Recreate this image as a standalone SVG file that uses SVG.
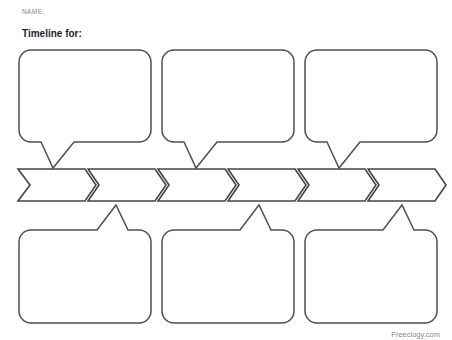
<svg xmlns="http://www.w3.org/2000/svg" width="452" height="340" viewBox="0 0 452 340">
<style>
.shape{fill:#fff;stroke:#505050;stroke-width:1.5;stroke-linejoin:miter}
.chev{fill:#fff;stroke:#454545;stroke-width:1.6;stroke-linejoin:miter}
.t{font-family:"Liberation Sans",Arial,sans-serif}
</style>
<rect width="452" height="340" fill="#fff"/>
<text class="t" x="22" y="14" font-size="6.5" fill="#888" letter-spacing="0.4">NAME:</text>
<text class="t" x="22" y="37" font-size="10" font-weight="bold" fill="#1e1e2e">Timeline for:</text>
<g id="top-bubble-1"><path class="shape" d="M31,50 H139 A12,12 0 0 1 151,62 V130 A12,12 0 0 1 139,142 H74 L53,168 L41,142 H31 A12,12 0 0 1 19,130 V62 A12,12 0 0 1 31,50 Z"/></g>
<g id="top-bubble-2"><path class="shape" d="M174,50 H282 A12,12 0 0 1 294,62 V130 A12,12 0 0 1 282,142 H217 L196,168 L184,142 H174 A12,12 0 0 1 162,130 V62 A12,12 0 0 1 174,50 Z"/></g>
<g id="top-bubble-3"><path class="shape" d="M317,50 H425 A12,12 0 0 1 437,62 V130 A12,12 0 0 1 425,142 H360 L339,168 L327,142 H317 A12,12 0 0 1 305,130 V62 A12,12 0 0 1 317,50 Z"/></g>
<g id="timeline">
<g id="step-1"><path class="chev" d="M18,169 H85 L96,185 L85,201 H18 L30,185 Z"/></g>
<g id="step-2"><path class="chev" d="M88,169 H155 L166,185 L155,201 H88 L99,185 Z"/></g>
<g id="step-3"><path class="chev" d="M158,169 H225 L236,185 L225,201 H158 L169,185 Z"/></g>
<g id="step-4"><path class="chev" d="M228,169 H295 L306,185 L295,201 H228 L239,185 Z"/></g>
<g id="step-5"><path class="chev" d="M298,169 H365 L376,185 L365,201 H298 L309,185 Z"/></g>
<g id="step-6"><path class="chev" d="M368,169 H435 L446,185 L435,201 H368 L379,185 Z"/></g>
</g>
<g id="bottom-bubble-1"><path class="shape" d="M31,230 H97 L116,205 L128,230 H139 A12,12 0 0 1 151,242 V311 A12,12 0 0 1 139,323 H31 A12,12 0 0 1 19,311 V242 A12,12 0 0 1 31,230 Z"/></g>
<g id="bottom-bubble-2"><path class="shape" d="M174,230 H240 L259,205 L271,230 H282 A12,12 0 0 1 294,242 V311 A12,12 0 0 1 282,323 H174 A12,12 0 0 1 162,311 V242 A12,12 0 0 1 174,230 Z"/></g>
<g id="bottom-bubble-3"><path class="shape" d="M317,230 H383 L402,205 L414,230 H425 A12,12 0 0 1 437,242 V311 A12,12 0 0 1 425,323 H317 A12,12 0 0 1 305,311 V242 A12,12 0 0 1 317,230 Z"/></g>
<text class="t" x="440" y="337" font-size="7.5" fill="#888" text-anchor="end">Freeclogy.com</text>
</svg>
